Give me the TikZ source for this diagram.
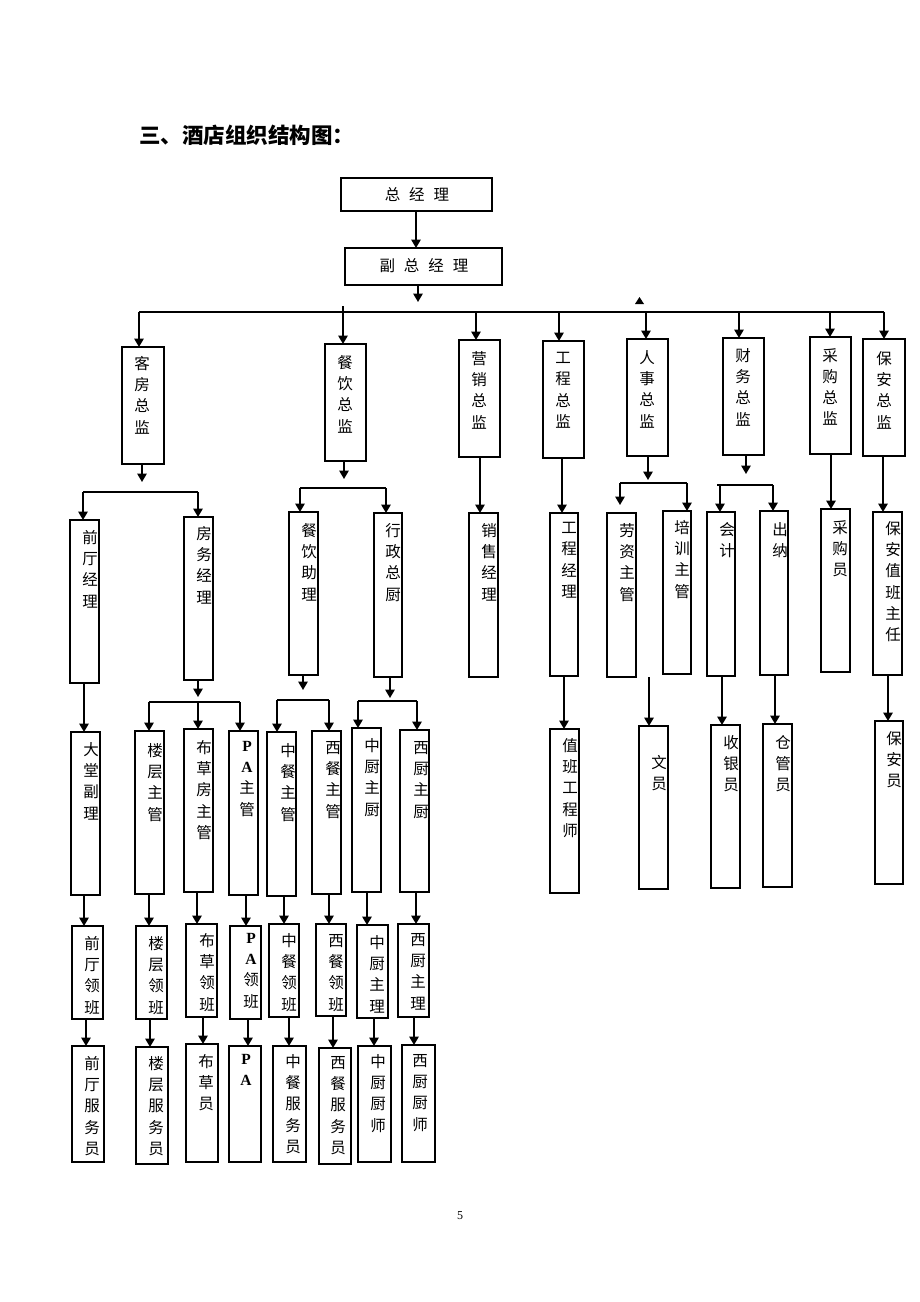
\documentclass[tikz,border=0pt]{standalone}
\usepackage{fontspec}
\setmainfont{Liberation Serif}
\newfontfamily\cjk{Noto Sans CJK SC}
\usetikzlibrary{arrows.meta}
\newcommand\bx[7]{%
  \pgfmathsetmacro\myW{#4-#2}\pgfmathsetmacro\myH{#5-#3}%
  \pgfmathsetmacro\myX{(#2+#4)/2}\pgfmathsetmacro\myY{(#3+#5)/2}%
  \node[box,minimum width=\myW pt,minimum height=\myH pt] (#1) at (\myX,\myY) {};}
\newcommand\tb[8]{\bx{#1}{#2}{#3}{#4}{#5}{#6}{#7}\node[txt] (#1t) at (#6,#7-7) {#8};}
\newcommand\varr[3]{\draw[arr] (#1,0 |- #2) -- (#1,0 |- #3);}
\begin{document}
\begin{tikzpicture}[x=1pt,y=-1pt,
  box/.style={draw,line width=1.4pt,inner sep=0pt,outer sep=0pt},
  txt/.style={font=\cjk\fontsize{15.5pt}{21.3pt}\selectfont,align=center,inner sep=0pt,anchor=north},
  ln/.style={line width=1.6pt},
  arr/.style={line width=1.6pt,-{Triangle[length=8.5pt,width=9.5pt]}}]
\useasboundingbox (0,0) rectangle (920,1302);
% title
\node[font=\cjk\bfseries\fontsize{21.5pt}{24pt}\selectfont,anchor=west,inner sep=0pt] (title) at (139,135) {三、酒店组织结构图：};
% top boxes
\bx{zjl}{341}{178}{492}{211}{0}{0}
\node[font=\cjk\fontsize{15.5pt}{18pt}\selectfont,inner sep=0pt] (zjlt) at (417,194.5) {总\hspace{9pt}经\hspace{9pt}理};
\bx{fzjl}{345}{248}{502}{285}{0}{0}
\node[font=\cjk\fontsize{15.5pt}{18pt}\selectfont,inner sep=0pt] (fzjlt) at (424,266) {副\hspace{9pt}总\hspace{9pt}经\hspace{9pt}理};
% level 1
\tb{kf}{122}{347}{164}{464}{142}{363}{客\\房\\总\\监}
\tb{cy}{325}{344}{366}{461}{345}{362}{餐\\饮\\总\\监}
\tb{yx}{459}{340}{500}{457}{479}{358}{营\\销\\总\\监}
\tb{gc}{543}{341}{584}{458}{563}{359}{工\\程\\总\\监}
\tb{rs}{627}{339}{668}{456}{647}{357}{人\\事\\总\\监}
\tb{cw}{723}{338}{764}{455}{743}{355}{财\\务\\总\\监}
\tb{cg}{810}{337}{851}{454}{830}{355}{采\\购\\总\\监}
\tb{ba}{863}{339}{905}{456}{884}{358}{保\\安\\总\\监}
% level 2
\tb{qtjl}{70}{520}{99}{683}{90}{537}{前\\厅\\经\\理}
\tb{fwjl}{184}{517}{213}{680}{204}{533}{房\\务\\经\\理}
\tb{cyzl}{289}{512}{318}{675}{309}{530}{餐\\饮\\助\\理}
\tb{xzzc}{374}{513}{402}{677}{393}{530}{行\\政\\总\\厨}
\tb{xsjl}{469}{513}{498}{677}{489}{530}{销\\售\\经\\理}
\tb{gcjl}{550}{513}{578}{676}{569}{529}{工\\程\\经\\理}
\tb{lzzg}{607}{513}{636}{677}{627}{530}{劳\\资\\主\\管}
\tb{pxzg}{663}{511}{691}{674}{682}{527}{培\\训\\主\\管}
\tb{kj}{707}{512}{735}{676}{727}{529}{会\\计}
\tb{cn}{760}{511}{788}{675}{780}{529}{出\\纳}
\tb{cgy}{821}{509}{850}{672}{840}{527}{采\\购\\员}
\tb{bazr}{873}{512}{902}{675}{893}{528}{保\\安\\值\\班\\主\\任}
% level 3
\tb{dtfl}{71}{732}{100}{895}{91}{749}{大\\堂\\副\\理}
\tb{lczg}{135}{731}{164}{894}{155}{750}{楼\\层\\主\\管}
\tb{bcfzg}{184}{729}{213}{892}{204}{747}{布\\草\\房\\主\\管}
\tb{pazg}{229}{731}{258}{895}{247}{748}{{\rmfamily\bfseries P}\\{\rmfamily\bfseries A}\\主\\管}
\tb{zczg}{267}{732}{296}{896}{288}{750}{中\\餐\\主\\管}
\tb{xczg}{312}{731}{341}{894}{333}{748}{西\\餐\\主\\管}
\tb{zchc}{352}{728}{381}{892}{372}{745}{中\\厨\\主\\厨}
\tb{xchc}{400}{730}{429}{892}{421}{748}{西\\厨\\主\\厨}
\tb{zbgcs}{550}{729}{579}{893}{570}{745}{值\\班\\工\\程\\师}
\tb{wy}{639}{726}{668}{889}{659}{762}{文\\员}
\tb{syy}{711}{725}{740}{888}{731}{742}{收\\银\\员}
\tb{cgy2}{763}{724}{792}{887}{783}{742}{仓\\管\\员}
\tb{bay}{875}{721}{903}{884}{894}{738}{保\\安\\员}
% level 4
\tb{qtlb}{72}{926}{103}{1019}{92}{943}{前\\厅\\领\\班}
\tb{lclb}{136}{926}{167}{1019}{156}{943}{楼\\层\\领\\班}
\tb{bclb}{186}{924}{217}{1017}{207}{940}{布\\草\\领\\班}
\tb{palb}{230}{926}{261}{1019}{251}{940}{{\rmfamily\bfseries P}\\{\rmfamily\bfseries A}\\领\\班}
\tb{zclb}{269}{924}{299}{1017}{289}{940}{中\\餐\\领\\班}
\tb{xclb}{316}{924}{346}{1016}{336}{941}{西\\餐\\领\\班}
\tb{zczl}{357}{925}{388}{1018}{377}{942}{中\\厨\\主\\理}
\tb{xczl}{398}{924}{429}{1017}{418}{940}{西\\厨\\主\\理}
% level 5
\tb{qtfwy}{72}{1046}{104}{1162}{92}{1063}{前\\厅\\服\\务\\员}
\tb{lcfwy}{136}{1047}{168}{1164}{156}{1063}{楼\\层\\服\\务\\员}
\tb{bcy}{186}{1044}{218}{1162}{206}{1061}{布\\草\\员}
\tb{pa}{229}{1046}{261}{1162}{246}{1061}{{\rmfamily\bfseries P}\\{\rmfamily\bfseries A}}
\tb{zcfwy}{273}{1046}{306}{1162}{293}{1061}{中\\餐\\服\\务\\员}
\tb{xcfwy}{319}{1048}{351}{1164}{338}{1063}{西\\餐\\服\\务\\员}
\tb{zccs}{358}{1046}{391}{1162}{378}{1061}{中\\厨\\厨\\师}
\tb{xccs}{402}{1045}{435}{1162}{420}{1061}{西\\厨\\厨\\师}
% page number
\node[font=\fontsize{12pt}{14pt}\selectfont,inner sep=0pt] (pg) at (460,1216) {5};
% ---------- connectors ----------
\varr{416}{zjl.south}{fzjl.north}
\coordinate (fzA) at (418,302);
\draw[arr] (418,0 |- fzjl.south) -- (fzA);
\coordinate (stray) at (639,300);
\fill (635,304) -- (644,304) -- (639.5,297) -- cycle;
\coordinate (busL) at (139,312);
\coordinate (busR) at (884,312);
\draw[ln] (busL) -- (busR);
\varr{139}{busL}{kf.north}
\coordinate (cyS) at (343,306);
\varr{343}{cyS}{cy.north}
\varr{476}{busL}{yx.north}
\varr{559}{busL}{gc.north}
\varr{646}{busL}{rs.north}
\varr{739}{busL}{cw.north}
\varr{830}{busL}{cg.north}
\varr{884}{busR}{ba.north}
% kefang
\coordinate (kfA) at (142,482);
\draw[arr] (142,0 |- kf.south) -- (kfA);
\coordinate (kfL) at (83,492); \coordinate (kfR) at (198,492);
\draw[ln] (kfL) -- (kfR);
\varr{83}{kfL}{qtjl.north}
\varr{198}{kfR}{fwjl.north}
% canyin
\coordinate (cyA) at (344,479);
\draw[arr] (344,0 |- cy.south) -- (cyA);
\coordinate (cyL) at (300,488); \coordinate (cyR) at (386,488);
\draw[ln] (cyL) -- (cyR);
\varr{300}{cyL}{cyzl.north}
\varr{386}{cyR}{xzzc.north}
\varr{480}{yx.south}{xsjl.north}
\varr{562}{gc.south}{gcjl.north}
% renshi
\coordinate (rsA) at (648,480);
\draw[arr] (648,0 |- rs.south) -- (rsA);
\coordinate (rsL) at (620,483); \coordinate (rsR) at (687,483);
\coordinate (rsE) at (620,505);
\draw[ln] (rsL) -- (rsR);
\draw[arr] (rsL) -- (rsE);
\varr{687}{rsR}{pxzg.north}
% caiwu
\coordinate (cwA) at (746,474);
\draw[arr] (746,0 |- cw.south) -- (cwA);
\coordinate (cwL) at (717,485); \coordinate (cwR) at (773,485);
\draw[ln] (cwL) -- (cwR);
\varr{720}{cwL}{kj.north}
\varr{773}{cwR}{cn.north}
\varr{831}{cg.south}{cgy.north}
\varr{883}{ba.south}{bazr.north}
% level 2 -> 3
\varr{84}{qtjl.south}{dtfl.north}
\coordinate (fwA) at (198,697);
\draw[arr] (198,0 |- fwjl.south) -- (fwA);
\coordinate (fwL) at (149,702); \coordinate (fwR) at (240,702);
\draw[ln] (fwL) -- (fwR);
\varr{149}{fwL}{lczg.north}
\varr{198}{fwL}{bcfzg.north}
\varr{240}{fwR}{pazg.north}
\coordinate (czA) at (303,690);
\draw[arr] (303,0 |- cyzl.south) -- (czA);
\coordinate (czL) at (277,700); \coordinate (czR) at (329,700);
\draw[ln] (czL) -- (czR);
\varr{277}{czL}{zczg.north}
\varr{329}{czR}{xczg.north}
\coordinate (xzA) at (390,698);
\draw[arr] (390,0 |- xzzc.south) -- (xzA);
\coordinate (xzL) at (358,701); \coordinate (xzR) at (417,701);
\draw[ln] (xzL) -- (xzR);
\varr{358}{xzL}{zchc.north}
\varr{417}{xzR}{xchc.north}
\varr{564}{gcjl.south}{zbgcs.north}
\coordinate (wyS) at (649,677);
\varr{649}{wyS}{wy.north}
\varr{722}{kj.south}{syy.north}
\varr{775}{cn.south}{cgy2.north}
\varr{888}{bazr.south}{bay.north}
% level 3 -> 4
\varr{84}{dtfl.south}{qtlb.north}
\varr{149}{lczg.south}{lclb.north}
\varr{197}{bcfzg.south}{bclb.north}
\varr{246}{pazg.south}{palb.north}
\varr{284}{zczg.south}{zclb.north}
\varr{329}{xczg.south}{xclb.north}
\varr{367}{zchc.south}{zczl.north}
\varr{416}{xchc.south}{xczl.north}
% level 4 -> 5
\varr{86}{qtlb.south}{qtfwy.north}
\varr{150}{lclb.south}{lcfwy.north}
\varr{203}{bclb.south}{bcy.north}
\varr{248}{palb.south}{pa.north}
\varr{289}{zclb.south}{zcfwy.north}
\varr{333}{xclb.south}{xcfwy.north}
\varr{374}{zczl.south}{zccs.north}
\varr{414}{xczl.south}{xccs.north}
\end{tikzpicture}
\end{document}
